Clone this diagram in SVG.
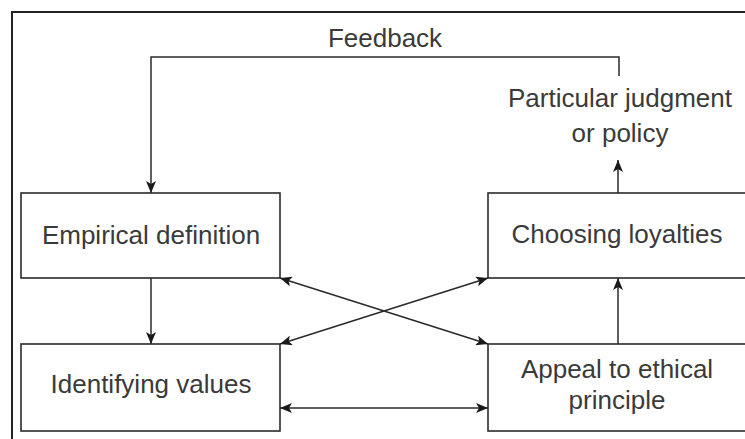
<svg xmlns="http://www.w3.org/2000/svg" width="745" height="439" viewBox="0 0 745 439">
<defs>
<style>
.box{fill:#fff;stroke:#2a2a2a;stroke-width:1.6}
.lbl{font-family:"Liberation Sans",Arial,sans-serif;font-size:26px;fill:#3a3a3a;text-anchor:middle}
.ln{fill:none;stroke:#2a2a2a;stroke-width:1.5}
.frame{fill:none;stroke:#222;stroke-width:2}
</style>
<marker id="ah" viewBox="0 0 12 10" refX="12" refY="5" markerWidth="12" markerHeight="10" markerUnits="userSpaceOnUse" orient="auto-start-reverse">
<path d="M0,0 L12,5 L0,10 L3,5 Z" fill="#1a1a1a"/>
</marker>
</defs>
<rect width="745" height="439" fill="#fff"/>
<path class="frame" d="M12,450 L12,12 L760,12"/>
<g id="feedback-label"><text class="lbl" x="385" y="47">Feedback</text></g>
<g id="judgment"><text class="lbl" x="620" y="107">Particular judgment</text><text class="lbl" x="620" y="142">or policy</text></g>
<g id="empirical"><rect class="box" x="21" y="193" width="259" height="85"/><text class="lbl" x="151" y="244">Empirical definition</text></g>
<g id="identifying"><rect class="box" x="21" y="344" width="259" height="87"/><text class="lbl" x="151" y="393">Identifying values</text></g>
<g id="choosing"><rect class="box" x="488" y="193" width="270" height="85"/><text class="lbl" x="617" y="243">Choosing loyalties</text></g>
<g id="appeal"><rect class="box" x="488" y="344" width="270" height="87"/><text class="lbl" x="617" y="378">Appeal to ethical</text><text class="lbl" x="617" y="409">principle</text></g>
<g id="connectors">
<path class="ln" d="M619,76 L619,57 L151,57 L151,193" marker-end="url(#ah)"/>
<path class="ln" d="M151,278 L151,344" marker-end="url(#ah)"/>
<path class="ln" d="M618,344 L618,278" marker-end="url(#ah)"/>
<path class="ln" d="M618,193 L618,160" marker-end="url(#ah)"/>
<path class="ln" d="M280,278 L488,344" marker-start="url(#ah)" marker-end="url(#ah)"/>
<path class="ln" d="M280,344 L488,278" marker-start="url(#ah)" marker-end="url(#ah)"/>
<path class="ln" d="M280,408 L488,408" marker-start="url(#ah)" marker-end="url(#ah)"/>
</g>
</svg>
